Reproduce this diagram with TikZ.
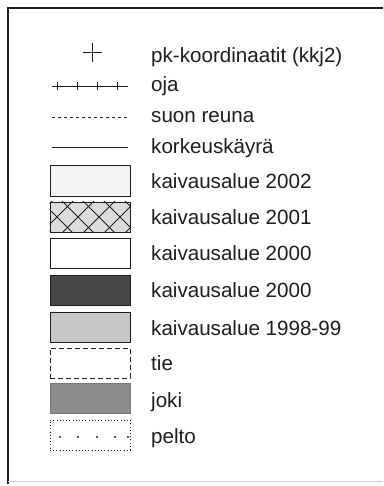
\documentclass[tikz,border=0pt]{standalone}
\usepackage{fontspec}
\usetikzlibrary{calc}
\setmainfont{Liberation Sans}
\definecolor{ink}{HTML}{1E1E1E}
\definecolor{light}{HTML}{F3F3F3}
\definecolor{hatchbg}{HTML}{DCDCDC}
\definecolor{dark}{HTML}{474747}
\definecolor{dotgray}{HTML}{C6C6C6}
\definecolor{river}{HTML}{8C8C8C}
\begin{document}
\begin{tikzpicture}[x=1pt,y=-1pt,
  lbl/.style={anchor=base west,inner sep=0pt,text=ink,font=\fontsize{20.6}{24}\selectfont},
  symline/.style={draw=ink,line width=0.8pt},
  legbox/.style={draw=ink,line width=1pt,minimum width=80pt,minimum height=30pt,inner sep=0pt}]
\useasboundingbox (0,0) rectangle (383,486);
\fill[white] (0,0) rectangle (383,486);
% frame
\draw[ink,line width=1.5pt] (383,8) -- (8,8) -- (8,484);
\draw[gray!40,line width=0.8pt] (8,481) -- (383,481);

% plus
\coordinate (pc) at (92.5,52.5);
\draw[ink,line width=0.9pt] ($(pc)+(-9.5,0)$) -- ($(pc)+(9.5,0)$) ($(pc)+(0,-9.5)$) -- ($(pc)+(0,9.5)$);
\node[lbl] (t1) at (151,63) {pk-koordinaatit (kkj2)};

% oja
\coordinate (oa) at (52,86); \coordinate (ob) at (128,86);
\draw[symline] (oa) -- (ob);
\foreach \x in {57,77,97,117} \draw[ink,line width=0.8pt] (\x,82) -- (\x,90);
\node[lbl] (t2) at (151,92) {oja};

% suon reuna
\coordinate (sa) at (52,117); \coordinate (sb) at (128,117);
\draw[symline,dash pattern=on 3pt off 3pt,line width=0.7pt] (sa) -- (sb);
\node[lbl] (t3) at (151,123) {suon reuna};

% korkeuskayra
\coordinate (ka) at (52,147); \coordinate (kb) at (128,147);
\draw[symline,line width=0.7pt] (ka) -- (kb);
\node[lbl] (t4) at (151,154) {korkeuskäyrä};

% boxes
\node[legbox,fill=light] (b1) at (90,181) {};
\node[lbl] (t5) at (151,189) {kaivausalue 2002};

\node[legbox,fill=hatchbg] (b2) at (90,217) {};
\begin{scope}
\clip (b2.south west) rectangle (b2.north east);
\foreach \k in {-3,...,6} {
  \draw[ink,line width=0.9pt] ({57+21*\k-25},{217-25}) -- ({57+21*\k+25},{217+25});
  \draw[ink,line width=0.9pt] ({57+21*\k-25},{217+25}) -- ({57+21*\k+25},{217-25});
}
\end{scope}
\node[legbox] at (b2) {};
\node[lbl] (t6) at (151,224) {kaivausalue 2001};

\node[legbox,fill=white] (b3) at (90,253) {};
\node[lbl] (t7) at (151,260) {kaivausalue 2000};

\node[legbox,fill=dark] (b4) at (90,290) {};
\node[lbl] (t8) at (151,297) {kaivausalue 2000};

\node[legbox,fill=dotgray] (b5) at (90,327) {};
\node[lbl] (t9) at (151,335) {kaivausalue 1998-99};

\node[legbox,draw=ink,dash pattern=on 5pt off 3pt,fill=white] (b6) at (90,363) {};
\node[lbl] (t10) at (151,370) {tie};

\node[legbox,draw=river!85!black,fill=river] (b7) at (90,398) {};
\node[lbl] (t11) at (151,407) {joki};

\node[legbox,draw=ink,dash pattern=on 1pt off 2.2pt,line width=0.9pt,fill=white] (b8) at (90,435) {};
\foreach \x in {60,78,97,115} \fill[ink] (\x,437) circle (1.1pt);
\fill[ink] (128,437) circle (1.1pt);
\node[lbl] (t12) at (151,443) {pelto};
\end{tikzpicture}
\end{document}
